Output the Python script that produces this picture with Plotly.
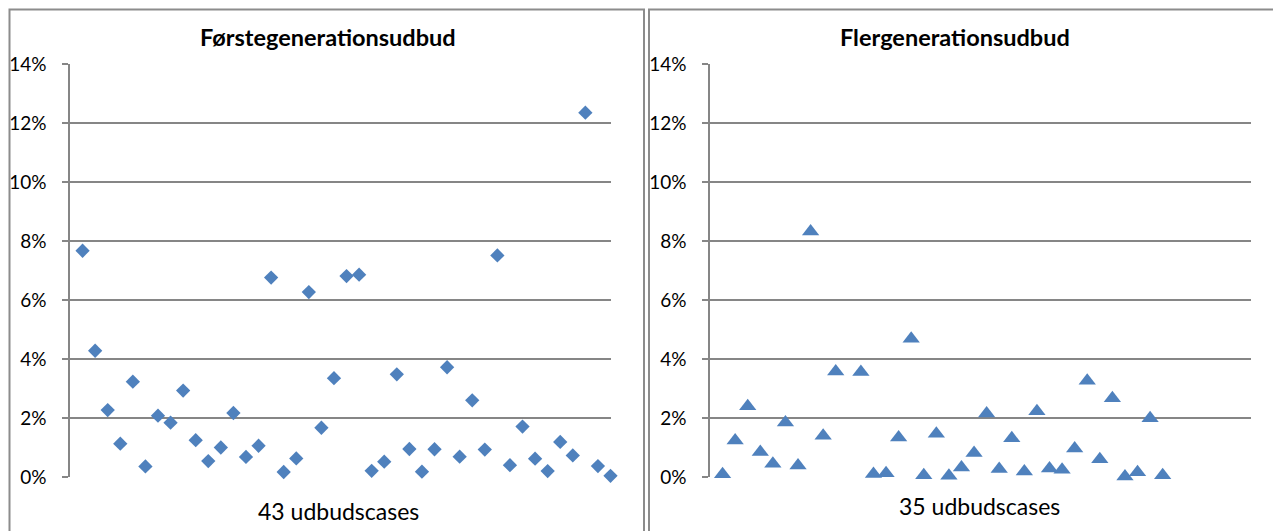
import plotly.graph_objects as go

W, H = 1273, 531

# Left chart: first-generation tenders (43 cases), values in %
first_gen_title = "Førstegenerationsudbud"
first_gen_label = "43 udbudscases"
first_gen_values = [7.67, 4.28, 2.27, 1.13, 3.23, 0.36, 2.08, 1.84, 2.93, 1.25,
                    0.54, 1.00, 2.17, 0.68, 1.06, 6.76, 0.17, 0.63, 6.27, 1.67,
                    3.35, 6.81, 6.86, 0.21, 0.52, 3.48, 0.95, 0.18, 0.94, 3.72,
                    0.69, 2.60, 0.93, 7.51, 0.40, 1.71, 0.62, 0.20, 1.19, 0.73,
                    12.35, 0.37, 0.04]

# Right chart: multi-generation tenders (35 cases), None = no case at that position
multi_gen_title = "Flergenerationsudbud"
multi_gen_label = "35 udbudscases"
multi_gen_values = [0.09, 1.24, 2.40, 0.85, 0.45, 1.85, 0.39, 8.32, 1.40, 3.58,
                    None, 3.56, 0.10, 0.13, 1.34, 4.69, 0.06, 1.47, 0.04, 0.32,
                    0.81, 2.15, 0.27, 1.31, 0.19, 2.23, 0.29, 0.25, 0.97, 3.26,
                    0.60, 2.67, 0.02, 0.16, 1.99, 0.06]

y_ticks = [0, 2, 4, 6, 8, 10, 12, 14]
y_tick_labels = ["0%", "2%", "4%", "6%", "8%", "10%", "12%", "14%"]
x_max = 43

BLUE = "#4F81BD"
GRID = "#868686"
FONT = "Lato"

fig = go.Figure()
fig.add_trace(go.Scatter(
    x=list(range(1, len(first_gen_values) + 1)), y=first_gen_values,
    mode="markers", marker=dict(symbol="diamond", size=11, color=BLUE),
    cliponaxis=False, xaxis="x", yaxis="y", showlegend=False))
fig.add_trace(go.Scatter(
    x=list(range(1, len(multi_gen_values) + 1)), y=multi_gen_values,
    mode="markers", marker=dict(symbol="triangle-up", size=15, color=BLUE),
    cliponaxis=False, xaxis="x2", yaxis="y2", showlegend=False))

def px_x(p):
    return p / W

def px_y(p):
    return 1 - p / H

yax = dict(range=[0, 14.0001], tickmode="array", tickvals=y_ticks, ticktext=y_tick_labels,
           showgrid=True, gridcolor=GRID, gridwidth=1.5,
           showline=True, linecolor=GRID, linewidth=1.5,
           ticks="outside", ticklen=6, tickcolor=GRID, tickwidth=1.5,
           ticklabelstandoff=12,
           zeroline=False, tickfont=dict(family=FONT, size=19, color="#000"),
           automargin=False, fixedrange=True)
xax = dict(range=[0, x_max], showgrid=False, showticklabels=False,
           zeroline=False, showline=False, ticks="", automargin=False,
           fixedrange=True)

fig.update_layout(
    width=W, height=H, margin=dict(l=0, r=0, t=0, b=0, autoexpand=False),
    autosize=False,
    paper_bgcolor="white", plot_bgcolor="white",
    xaxis=dict(domain=[px_x(70), px_x(610.5)], anchor="y", **xax),
    yaxis=dict(domain=[px_y(477), px_y(64)], anchor="x", **yax),
    xaxis2=dict(domain=[px_x(710), px_x(1250.7)], anchor="y2", **xax),
    yaxis2=dict(domain=[px_y(477), px_y(64)], anchor="x2", **yax),
)

# chart frames
fig.add_shape(type="rect", xref="paper", yref="paper",
              x0=px_x(9.5), x1=px_x(644), y0=-0.05, y1=px_y(9.5),
              line=dict(color="#8C8C8C", width=2), fillcolor="rgba(0,0,0,0)")
fig.add_shape(type="rect", xref="paper", yref="paper",
              x0=px_x(649), x1=1.05, y0=-0.05, y1=px_y(9.5),
              line=dict(color="#8C8C8C", width=2), fillcolor="rgba(0,0,0,0)")

# titles
fig.add_annotation(text="<b>" + first_gen_title + "</b>", xref="paper", yref="paper",
                   x=px_x(328), y=px_y(37.5), showarrow=False,
                   xanchor="center", yanchor="middle",
                   font=dict(family=FONT, size=23.5, color="#000"))
fig.add_annotation(text="<b>" + multi_gen_title + "</b>", xref="paper", yref="paper",
                   x=px_x(954.5), y=px_y(37.5), showarrow=False,
                   xanchor="center", yanchor="middle",
                   font=dict(family=FONT, size=23.5, color="#000"))
# x-axis labels
fig.add_annotation(text=first_gen_label, xref="paper", yref="paper",
                   x=px_x(339), y=px_y(511), showarrow=False,
                   xanchor="center", yanchor="middle",
                   font=dict(family=FONT, size=23, color="#000"))
fig.add_annotation(text=multi_gen_label, xref="paper", yref="paper",
                   x=px_x(979.5), y=px_y(506), showarrow=False,
                   xanchor="center", yanchor="middle",
                   font=dict(family=FONT, size=23, color="#000"))

fig.write_html("out.html", config={"responsive": False, "displayModeBar": False},
               post_script="document.body.style.margin='0';document.body.style.overflow='hidden';")
